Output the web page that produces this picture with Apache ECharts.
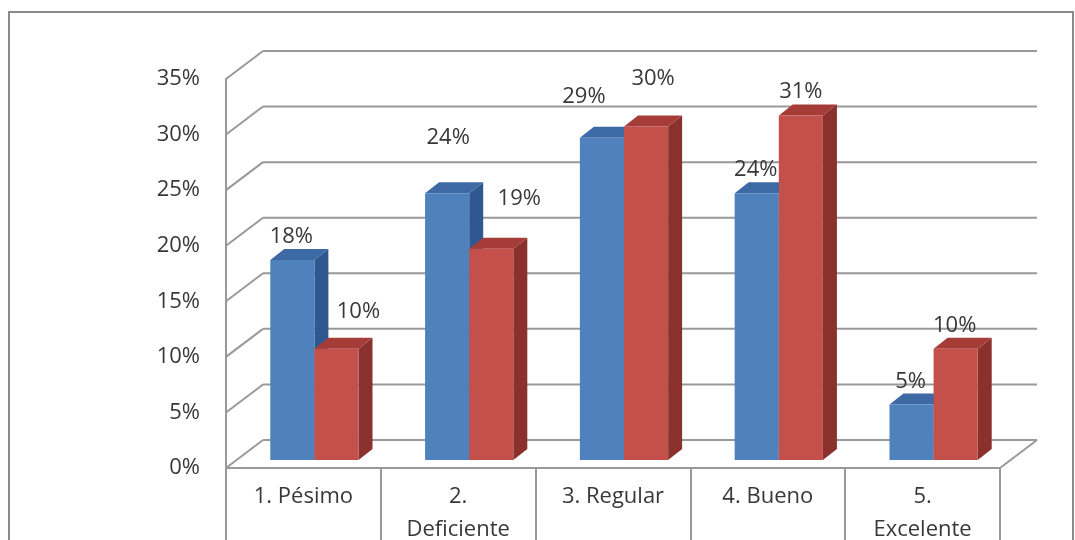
<!DOCTYPE html>
<html>
<head>
<meta charset="utf-8">
<script src="https://cdn.jsdelivr.net/npm/echarts@6/dist/echarts.min.js"></script>
<style>
  html, body { margin: 0; padding: 0; background: #fff; }
  #main { width: 1075px; height: 540px; }
</style>
</head>
<body>
<div id="main"></div>
<script>
// datos del gráfico
const categories = ['1. Pésimo', '2.\nDeficiente', '3. Regular', '4. Bueno', '5.\nExcelente'];
const serieAzul = [18, 24, 29, 24, 5];
const serieRoja = [10, 19, 30, 31, 10];
const yTicks = [0, 5, 10, 15, 20, 25, 30, 35];

// desplazamiento manual de etiquetas (px) respecto a la cara superior
const offAzul = [[-1, -23], [1, -56], [-18, -41], [-1, -24], [-1, -23]];
const offRoja = [[22, -37], [28, -50], [7, -48], [0, -24], [-1, -23]];

const FONT = '"Open Sans", sans-serif';
const TXT = '#383838';
const GRIS = '#999';
const DX = 37, DY = -28;      // profundidad de la pared del fondo
const PX = 11, PY = -8;       // plano de las barras
const BX = 14, BY = -11;      // profundidad de cada barra

function barRender(offs, lado, colores) {
  return function (params, api) {
    const i = api.value(0);
    const v = api.value(1);
    const base = api.coord([i, 0]);
    const top = api.coord([i, v]);
    const band = api.size([1, 0])[0];
    const w = band * 0.285;
    const x0 = base[0] + PX + (lado < 0 ? -w : 0);
    const y0 = base[1] + PY;
    const yt = top[1] + PY;
    const off = offs[i];
    return {
      type: 'group',
      children: [
        { type: 'polygon', shape: { points: [[x0 + w, yt], [x0 + w + BX, yt + BY], [x0 + w + BX, y0 + BY], [x0 + w, y0]] },
          style: { fill: colores[2] } },
        { type: 'polygon', shape: { points: [[x0, yt], [x0 + w, yt], [x0 + w + BX, yt + BY], [x0 + BX, yt + BY]] },
          style: { fill: colores[1] } },
        { type: 'rect', shape: { x: x0, y: yt, width: w, height: y0 - yt },
          style: { fill: colores[0] } },
        { type: 'text', x: x0 + w / 2 + off[0], y: yt + off[1],
          style: { text: v + '%', fill: TXT, font: '22px ' + FONT, align: 'center', verticalAlign: 'middle' } }
      ]
    };
  };
}

function frameRender(params, api) {
  const v = api.value(1);
  const cs = params.coordSys;
  const y = api.coord([0, v])[1];
  const x0 = cs.x, x1 = cs.x + cs.width;
  const ls = { stroke: GRIS, lineWidth: 2 };
  const kids = [
    { type: 'line', shape: { x1: x0, y1: y, x2: x0 + DX, y2: y + DY }, style: ls },
    { type: 'line', shape: { x1: x0 + DX, y1: y + DY, x2: x1 + DX, y2: y + DY }, style: ls }
  ];
  if (v === 0) {
    kids.push({ type: 'line', shape: { x1: x1, y1: y, x2: x1 + DX, y2: y + DY }, style: ls });
  }
  return { type: 'group', children: kids };
}

const chart = echarts.init(document.getElementById('main'));
chart.setOption({
  animation: false,
  backgroundColor: '#fff',
  graphic: [{
    type: 'rect', z: -10,
    shape: { x: 9, y: 12, width: 1064, height: 600 },
    style: { fill: 'none', stroke: '#8a8a8a', lineWidth: 2 }
  }],
  grid: { left: 226, right: 75, top: 79, bottom: 72, outerBoundsMode: 'none' },
  xAxis: {
    type: 'category',
    data: categories,
    axisLine: { lineStyle: { color: GRIS, width: 2 } },
    axisTick: { show: true, length: 75, interval: 0, lineStyle: { color: GRIS, width: 2 } },
    axisLabel: { interval: 0, margin: 12, color: TXT, fontFamily: FONT, fontSize: 22, lineHeight: 33 }
  },
  yAxis: {
    type: 'value',
    min: 0, max: 35, interval: 5,
    axisLine: { show: true, lineStyle: { color: GRIS, width: 2 } },
    axisTick: { show: false },
    splitLine: { show: false },
    axisLabel: { formatter: '{value}%', margin: 26, padding: [8, 0, 0, 0], color: TXT, fontFamily: FONT, fontSize: 22 }
  },
  series: [
    {
      type: 'custom', name: 'marco', z: 1,
      data: yTicks.map(v => [0, v]),
      renderItem: frameRender
    },
    {
      type: 'custom', name: 'Serie 1', z: 2,
      data: serieAzul.map((v, i) => [i, v]),
      renderItem: barRender(offAzul, -1, ['#4f81bd', '#3d6aa5', '#2f5890'])
    },
    {
      type: 'custom', name: 'Serie 2', z: 3,
      data: serieRoja.map((v, i) => [i, v]),
      renderItem: barRender(offRoja, 1, ['#c4504c', '#a63c38', '#8a302d'])
    }
  ]
});
</script>
</body>
</html>
